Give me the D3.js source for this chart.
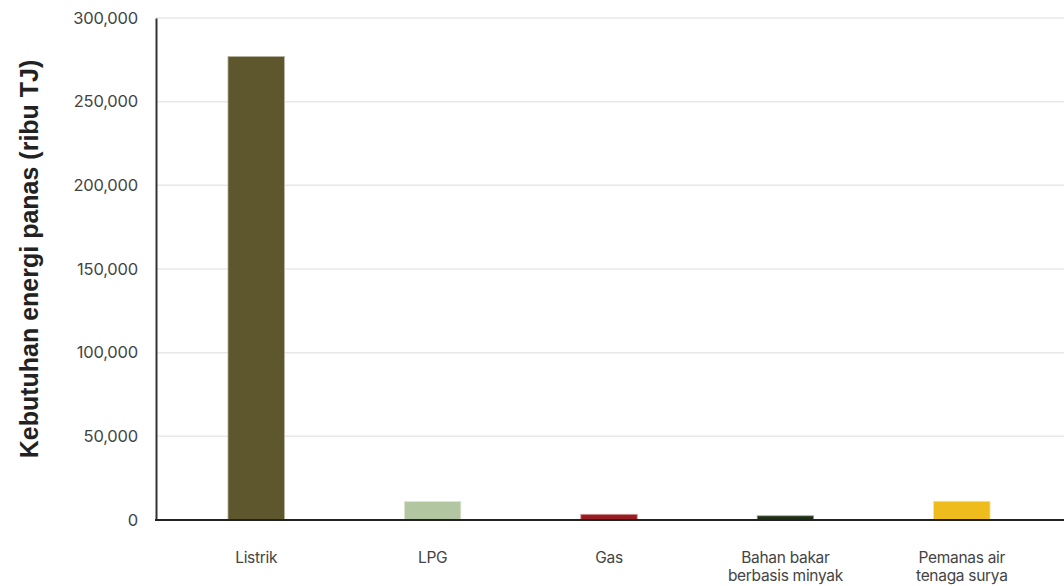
<!DOCTYPE html>
<html>
<head>
<meta charset="utf-8">
<script src="https://cdn.jsdelivr.net/npm/d3@7"></script>
<style>
  html, body { margin: 0; padding: 0; background: #fff; }
  svg { display: block; }
  .tick text { font-family: Inter, Roboto, sans-serif; }
</style>
</head>
<body>
<svg id="chart" width="1064" height="586"></svg>
<script>
// Kebutuhan energi panas per sumber (ribu TJ)
const categories = ["Listrik", "LPG", "Gas", "Bahan bakar\nberbasis minyak", "Pemanas air\ntenaga surya"];
const values = [277000, 11000, 3400, 2500, 11200];
const colors = ["#5e572d", "#b1c6a1", "#9b1c20", "#1e2d15", "#efbc1d"];
const yTicks = [0, 50000, 100000, 150000, 200000, 250000, 300000];
const yLabel = "Kebutuhan energi panas (ribu TJ)";

const svg = d3.select("#chart");
const plot = { left: 156, right: 1064, top: 18, bottom: 520 };

const x = d3.scaleBand()
  .domain(categories)
  .range([168, 1050])
  .paddingInner(0.68)
  .paddingOuter(0.34);

const y = d3.scaleLinear()
  .domain([0, 300000])
  .range([plot.bottom, plot.top]);

// Horizontal gridlines
svg.append("g")
  .selectAll("line")
  .data(yTicks.filter(d => d > 0))
  .join("line")
  .attr("x1", plot.left).attr("x2", plot.right)
  .attr("y1", d => y(d)).attr("y2", d => y(d))
  .attr("stroke", "#e8e8e8")
  .attr("stroke-width", 1.5);

// Bars
svg.append("g")
  .selectAll("rect")
  .data(categories)
  .join("rect")
  .attr("x", d => x(d))
  .attr("width", x.bandwidth())
  .attr("y", (d, i) => y(values[i]))
  .attr("height", (d, i) => y(0) - y(values[i]))
  .attr("fill", (d, i) => colors[i])
  .attr("stroke", (d, i) => d3.interpolateRgb(colors[i], "#fff")(0.55))
  .attr("stroke-width", 0.8);

// Y axis
const yAxis = svg.append("g")
  .attr("transform", `translate(${plot.left},0)`)
  .call(d3.axisLeft(y).tickValues(yTicks).tickSize(0).tickPadding(18)
    .tickFormat(d3.format(",")));
yAxis.select(".domain").attr("stroke", "#333").attr("stroke-width", 2);
yAxis.selectAll(".tick text")
  .attr("font-size", 16.5)
  .attr("letter-spacing", -0.2)
  .attr("fill", "#444");

// X axis baseline
svg.append("line")
  .attr("x1", plot.left - 1).attr("x2", plot.right)
  .attr("y1", y(0)).attr("y2", y(0))
  .attr("stroke", "#222")
  .attr("stroke-width", 2);

// Category labels (multi-line)
const xl = svg.append("g")
  .selectAll("text")
  .data(categories)
  .join("text")
  .attr("x", d => x(d) + x.bandwidth() / 2)
  .attr("y", 563)
  .attr("text-anchor", "middle")
  .attr("font-family", "Inter, Roboto, sans-serif")
  .attr("font-size", 15.5)
  .attr("letter-spacing", -0.3)
  .attr("fill", "#444");
xl.each(function(d) {
  const lines = d.split("\n");
  d3.select(this).selectAll("tspan")
    .data(lines)
    .join("tspan")
    .attr("x", x(d) + x.bandwidth() / 2)
    .attr("dy", (l, i) => i === 0 ? 0 : 18)
    .text(l => l);
});

// Y axis title
svg.append("text")
  .attr("transform", `translate(38,${(plot.top + plot.bottom) / 2 - 10}) rotate(-90)`)
  .attr("text-anchor", "middle")
  .attr("font-family", "'Liberation Sans', Arial, sans-serif")
  .attr("font-weight", "bold")
  .attr("font-size", 25)
  .attr("fill", "#222")
  .text(yLabel);
</script>
</body>
</html>
